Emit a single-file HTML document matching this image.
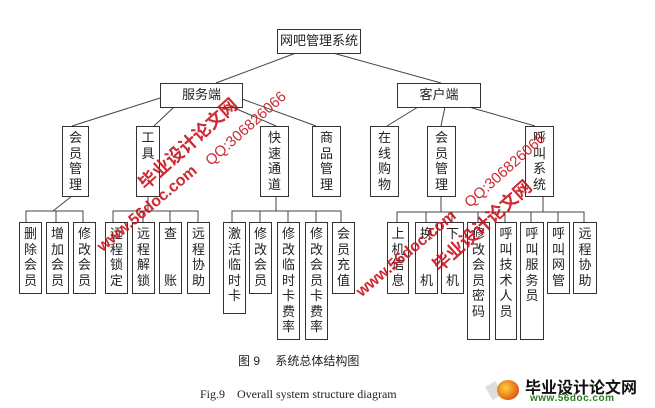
<!DOCTYPE html>
<html><head><meta charset="utf-8"><style>
body{margin:0;width:655px;height:408px;background:#fff;position:relative;overflow:hidden;font-family:"Liberation Sans","Noto Sans CJK SC",sans-serif;}
.b{position:absolute;border:1px solid #333;box-sizing:border-box;background:#fff;font-size:13px;color:#222;text-align:center;}
.h{line-height:22px;}
.v{line-height:15.5px;padding-top:3px;}
svg{position:absolute;left:0;top:0;}
.wm{position:absolute;color:#c8141e;font-weight:bold;white-space:nowrap;transform-origin:center;opacity:.9}
</style></head><body>
<svg width="655" height="408" stroke="#444" stroke-width="1" fill="none">
<line x1="296" y1="53" x2="216" y2="83"/>
<line x1="333" y1="53" x2="441" y2="83"/>
<line x1="160" y1="98" x2="72" y2="126"/>
<line x1="174" y1="107" x2="154" y2="126"/>
<line x1="232" y1="107" x2="276" y2="126"/>
<line x1="242" y1="99" x2="316" y2="126"/>
<line x1="418" y1="107" x2="387" y2="126"/>
<line x1="445" y1="107" x2="441" y2="126"/>
<line x1="469" y1="107" x2="535" y2="126"/>
<line x1="72" y1="196" x2="53" y2="211"/>
<polyline points="26,222 26,211 83,211 83,222"/>
<line x1="56" y1="211" x2="56" y2="222"/>
<line x1="148" y1="196" x2="148" y2="211"/>
<polyline points="113,222 113,211 198,211 198,222"/>
<line x1="143" y1="211" x2="143" y2="222"/><line x1="170" y1="211" x2="170" y2="222"/>
<line x1="276" y1="196" x2="276" y2="211"/>
<polyline points="232,222 232,211 341,211 341,222"/>
<line x1="260" y1="211" x2="260" y2="222"/><line x1="288" y1="211" x2="288" y2="222"/><line x1="316" y1="211" x2="316" y2="222"/>
<line x1="441" y1="196" x2="441" y2="212"/>
<line x1="543" y1="196" x2="543" y2="212"/>
<polyline points="397,222 397,212 584,212 584,222"/>
<line x1="426" y1="212" x2="426" y2="222"/><line x1="452" y1="212" x2="452" y2="222"/><line x1="478" y1="212" x2="478" y2="222"/><line x1="505" y1="212" x2="505" y2="222"/><line x1="531" y1="212" x2="531" y2="222"/><line x1="558" y1="212" x2="558" y2="222"/>
</svg>
<div class="b h" style="left:277px;top:29px;width:84px;height:25px">网吧管理系统</div>
<div class="b h" style="left:160px;top:83px;width:83px;height:25px">服务端</div>
<div class="b h" style="left:397px;top:83px;width:84px;height:25px">客户端</div>

<div class="b v" style="left:62px;top:126px;width:27px;height:71px;padding-top:3px">会<br>员<br>管<br>理</div>
<div class="b v" style="left:136px;top:126px;width:24px;height:71px">工<br>具</div>
<div class="b v" style="left:260px;top:126px;width:29px;height:71px">快<br>速<br>通<br>道</div>
<div class="b v" style="left:312px;top:126px;width:29px;height:71px">商<br>品<br>管<br>理</div>
<div class="b v" style="left:370px;top:126px;width:29px;height:71px">在<br>线<br>购<br>物</div>
<div class="b v" style="left:427px;top:126px;width:29px;height:71px">会<br>员<br>管<br>理</div>
<div class="b v" style="left:525px;top:126px;width:29px;height:71px">呼<br>叫<br>系<br>统</div>

<div class="b v" style="left:19px;top:222px;width:23px;height:72px">删<br>除<br>会<br>员</div>
<div class="b v" style="left:46px;top:222px;width:23px;height:72px">增<br>加<br>会<br>员</div>
<div class="b v" style="left:73px;top:222px;width:23px;height:72px">修<br>改<br>会<br>员</div>
<div class="b v" style="left:105px;top:222px;width:23px;height:72px">远<br>程<br>锁<br>定</div>
<div class="b v" style="left:132px;top:222px;width:23px;height:72px">远<br>程<br>解<br>锁</div>
<div class="b v" style="left:159px;top:222px;width:23px;height:72px">查<br><br><br>账</div>
<div class="b v" style="left:187px;top:222px;width:23px;height:72px">远<br>程<br>协<br>助</div>
<div class="b v" style="left:223px;top:222px;width:23px;height:92px">激<br>活<br>临<br>时<br>卡</div>
<div class="b v" style="left:249px;top:222px;width:23px;height:72px">修<br>改<br>会<br>员</div>
<div class="b v" style="left:277px;top:222px;width:23px;height:118px">修<br>改<br>临<br>时<br>卡<br>费<br>率</div>
<div class="b v" style="left:305px;top:222px;width:23px;height:118px">修<br>改<br>会<br>员<br>卡<br>费<br>率</div>
<div class="b v" style="left:332px;top:222px;width:23px;height:72px">会<br>员<br>充<br>值</div>

<div class="b v" style="left:387px;top:222px;width:22px;height:72px">上<br>机<br>信<br>息</div>
<div class="b v" style="left:415px;top:222px;width:23px;height:72px">换<br><br><br>机</div>
<div class="b v" style="left:441px;top:222px;width:23px;height:72px">下<br><br><br>机</div>
<div class="b v" style="left:467px;top:222px;width:23px;height:118px">修<br>改<br>会<br>员<br>密<br>码</div>
<div class="b v" style="left:495px;top:222px;width:22px;height:118px">呼<br>叫<br>技<br>术<br>人<br>员</div>
<div class="b v" style="left:520px;top:222px;width:24px;height:118px">呼<br>叫<br>服<br>务<br>员</div>
<div class="b v" style="left:547px;top:222px;width:23px;height:72px">呼<br>叫<br>网<br>管</div>
<div class="b v" style="left:573px;top:222px;width:24px;height:72px">远<br>程<br>协<br>助</div>

<div style="position:absolute;left:238px;top:352px;font-size:12px;color:#222;white-space:nowrap">图 9　 系统总体结构图</div>
<div style="position:absolute;left:200px;top:385px;font-size:12px;color:#222;font-family:'Liberation Serif',serif;white-space:nowrap">Fig.9　Overall system structure diagram</div>

<div class="wm" style="left:128px;top:139px;width:100px;text-align:center;font-size:18px;transform:rotate(-42deg)">毕业设计论文网</div>
<div class="wm" style="left:195px;top:121px;width:100px;text-align:center;font-size:15px;font-weight:normal;transform:rotate(-42deg)">QQ:306826066</div>
<div class="wm" style="left:87px;top:205px;width:110px;text-align:center;font-size:16px;transform:rotate(-40deg)">www.56doc.com</div>
<div class="wm" style="left:346px;top:250px;width:110px;text-align:center;font-size:16px;transform:rotate(-40deg)">www.56doc.com</div>
<div class="wm" style="left:422px;top:221px;width:100px;text-align:center;font-size:18px;transform:rotate(-42deg)">毕业设计论文网</div>
<div class="wm" style="left:454px;top:163px;width:100px;text-align:center;font-size:15px;font-weight:normal;transform:rotate(-42deg)">QQ:306826066</div>

<div style="position:absolute;left:488px;top:383px;width:12px;height:15px;background:#ddd;transform:rotate(-30deg)"></div>
<div style="position:absolute;left:497px;top:380px;width:22px;height:20px;border-radius:50%;background:radial-gradient(circle at 40% 40%,#ffcf40,#e06010 70%,#a04000)"></div>
<div style="position:absolute;left:525px;top:374px;font-size:16px;font-weight:bold;color:#111;white-space:nowrap">毕业设计论文网</div>
<div style="position:absolute;left:530px;top:393px;font-size:10px;font-weight:bold;color:#2a7a20;letter-spacing:0.5px;font-family:'Liberation Sans',sans-serif;white-space:nowrap">www.56doc.com</div>
</body></html>
